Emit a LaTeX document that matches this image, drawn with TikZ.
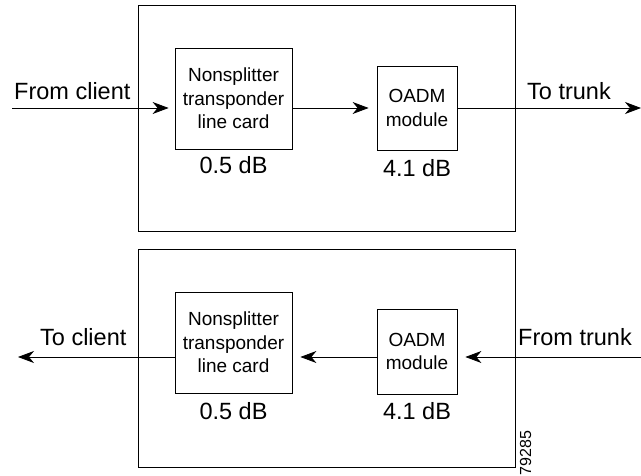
\documentclass[tikz,border=0pt]{standalone}
\usepackage{fontspec}
\setmainfont{Liberation Sans}
\usetikzlibrary{arrows.meta}
\tikzset{
  frame/.style={draw, line width=0.8pt, inner sep=0pt, anchor=north west},
  unit/.style={draw, line width=0.8pt, inner sep=0pt, align=center,
    font=\fontsize{19}{23.5}\selectfont},
  loss/.style={font=\fontsize{23.5}{27}\selectfont, inner sep=0pt, anchor=base},
  side/.style={font=\fontsize{23.5}{27}\selectfont, inner sep=0pt},
  flow/.style={line width=0.8pt, -{Stealth[length=16pt,width=12pt,inset=5pt]}},
}
\begin{document}
\begin{tikzpicture}[x=1pt,y=-1pt]
\useasboundingbox (0,0) rectangle (641,476);

% ---- transmit direction ----
\node[frame, minimum width=377pt, minimum height=226pt] (tframe) at (138,5) {};
\node[unit, minimum width=117pt, minimum height=101pt] (tns) at (233.5,98.5)
  {Nonsplitter\\transponder\\line card};
\node[unit, minimum width=80pt, minimum height=84pt] (toadm) at (417,108)
  {OADM\\module};
\node[loss] (tnsloss) at (233.5,174) {0.5 dB};
\node[loss] (toadmloss) at (417,177) {4.1 dB};
\node[side, anchor=base west] (fromclient) at (14,100) {From client};
\node[side, anchor=base west] (totrunk) at (527,100) {To trunk};
\coordinate (tin) at (12,108);
\coordinate (tout) at (641,108);
\draw[flow, shorten >=6pt] (tin) -- (tin -| tns.west);
\draw[flow, shorten >=8pt] (tin -| tns.east) -- (tin -| toadm.west);
\draw[flow] (tin -| toadm.east) -- (tout);

% ---- receive direction ----
\node[frame, minimum width=377pt, minimum height=218pt] (bframe) at (138,249) {};
\node[unit, minimum width=117pt, minimum height=101pt] (bns) at (233.5,342.5)
  {Nonsplitter\\transponder\\line card};
\node[unit, minimum width=80pt, minimum height=85pt] (boadm) at (417,351.5)
  {OADM\\module};
\node[loss] (bnsloss) at (233.5,419) {0.5 dB};
\node[loss] (boadmloss) at (417,420) {4.1 dB};
\node[side, anchor=base west] (toclient) at (40,345) {To client};
\node[side, anchor=base west] (fromtrunk) at (518,345) {From trunk};
\coordinate (bin) at (641,357);
\coordinate (bout) at (18,357);
\draw[flow, shorten >=8pt] (bin) -- (bin -| boadm.east);
\draw[flow, shorten >=8pt] (bin -| boadm.west) -- (bin -| bns.east);
\draw[flow] (bin -| bns.west) -- (bout);

% figure number
\node[font=\fontsize{16}{18}\selectfont, rotate=90, inner sep=0pt] (fignum) at (525.5,453) {79285};
\end{tikzpicture}
\end{document}
